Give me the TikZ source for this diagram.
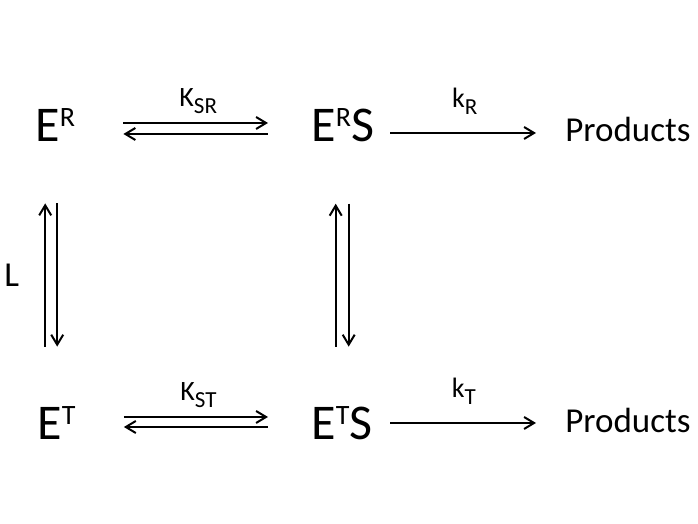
\documentclass[tikz,border=0pt]{standalone}
\usepackage{fontspec}
\setmainfont{Carlito}
\usetikzlibrary{arrows.meta}
\newcommand{\hi}[1]{\raisebox{7.5pt}{\fontsize{14}{14}\selectfont #1}}
\newcommand{\lo}[1]{\raisebox{-3.5pt}{\fontsize{11.5}{12}\selectfont #1}}

\begin{document}
\begin{tikzpicture}[x=0.5pt,y=-0.5pt]
        \useasboundingbox (0,0) rectangle (698,524);

        \begin{scope}[every node/.style={inner sep=0pt,anchor=base west,font=\fontsize{25}{30}\selectfont}]
            \node (ER) at (35,142) {E\hi{R}};
            \node (ERS) at (311,142) {E\hi{R}S};
            \node (ET) at (37,440) {E\hi{T}};
            \node (ETS) at (311,440) {E\hi{T}S};
        \end{scope}

        \begin{scope}[every node/.style={inner sep=0pt,anchor=base west,font=\fontsize{17.5}{20}\selectfont}]
            \node (PR) at (565,142) {Products};
            \node (PT) at (565,433) {Products};
            \node (L) at (4,287) {L};
        \end{scope}

        \begin{scope}[>={Straight Barb[length=5pt,width=6pt]},
                      every node/.style={inner sep=0pt,font=\fontsize{14}{16}\selectfont},
                      every edge/.style={draw=black,line width=1pt}]
            \path [->,shorten <=24pt,shorten >=21.5pt] ([yshift=9.5pt]ER.base east) edge node[above=4pt,xshift=2.5pt] {K\lo{SR}} ([yshift=9.5pt]ERS.base west);
            \path [<-,shorten <=24pt,shorten >=21.5pt] ([yshift=4pt]ER.base east) edge ([yshift=4pt]ERS.base west);
            \path [->,shorten <=8pt,shorten >=14.5pt] ([yshift=4.5pt]ERS.base east) edge node[above=8.5pt,xshift=-2.5pt] {k\lo{R}} ([yshift=4.5pt]PR.base west);
            \path [->,shorten <=24pt,shorten >=21.5pt] ([yshift=11.5pt]ET.base east) edge node[above=4pt,xshift=2.5pt] {K\lo{ST}} ([yshift=11.5pt]ETS.base west);
            \path [<-,shorten <=24pt,shorten >=21.5pt] ([yshift=6.5pt]ET.base east) edge ([yshift=6.5pt]ETS.base west);
            \path [->,shorten <=8.75pt,shorten >=14.5pt] ([yshift=8.5pt]ETS.base east) edge node[above=8.5pt,xshift=-2.5pt] {k\lo{T}} ([yshift=8.5pt]PT.base west |- ETS.base east);
            \path [<-,shorten <=30.5pt,shorten >=30pt] ([xshift=-5pt]ER.south) edge ([xshift=-5pt]ER.south |- ET.north);
            \path [->,shorten <=30.5pt,shorten >=30pt] ([xshift=1pt]ER.south) edge ([xshift=1pt]ER.south |- ET.north);
            \path [<-,shorten <=30.5pt,shorten >=30pt] ([xshift=-3.5pt]ERS.south) edge ([xshift=-3.5pt]ERS.south |- ETS.north);
            \path [->,shorten <=30.5pt,shorten >=30pt] ([xshift=3pt]ERS.south) edge ([xshift=3pt]ERS.south |- ETS.north);
        \end{scope}
    \end{tikzpicture}
\end{document}
